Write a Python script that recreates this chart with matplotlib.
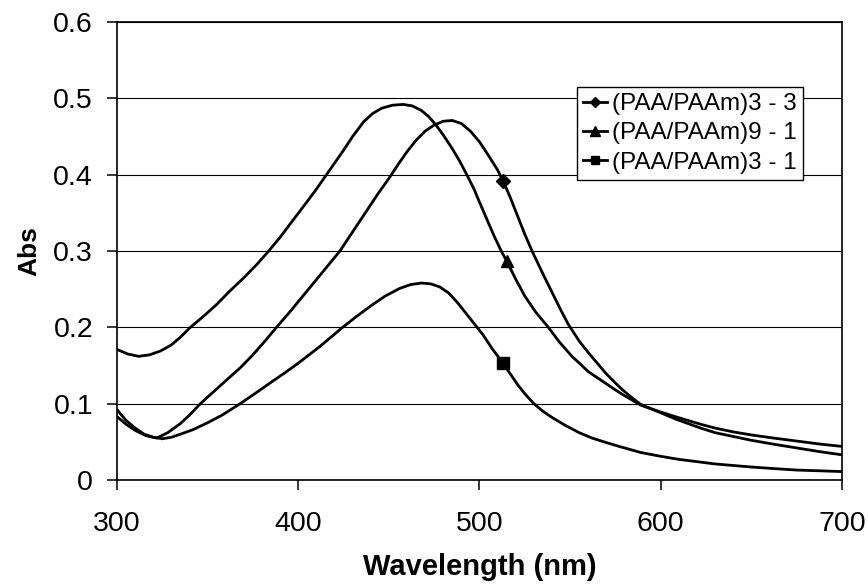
import matplotlib.pyplot as plt

plt.rcParams['font.family'] = ['Liberation Sans', 'DejaVu Sans']

# (PAA/PAAm)3 - 3
wl_33 = [300, 305, 310, 316, 322, 328, 335, 340, 346, 353, 360, 368, 375, 382, 388,
         396, 405, 414, 423, 430, 437, 444, 450, 455, 460, 465, 470, 475, 480, 485,
         490, 495, 500, 505, 510, 513, 517, 521, 525, 529, 535, 540, 545, 549, 555,
         560, 565, 570, 575, 579, 584, 589, 595, 600, 608, 615, 622, 630, 640, 650,
         662, 675, 688, 700]
abs_33 = [0.083, 0.073, 0.065, 0.058, 0.055, 0.062, 0.074, 0.085, 0.100, 0.115, 0.130,
          0.147, 0.164, 0.183, 0.200, 0.222, 0.248, 0.274, 0.300, 0.325, 0.350, 0.375,
          0.395, 0.413, 0.430, 0.445, 0.457, 0.465, 0.470, 0.471, 0.467, 0.457, 0.443,
          0.425, 0.406, 0.392, 0.370, 0.346, 0.322, 0.300, 0.270, 0.246, 0.222, 0.204,
          0.182, 0.167, 0.153, 0.139, 0.127, 0.118, 0.108, 0.099, 0.093, 0.088, 0.080,
          0.074, 0.068, 0.062, 0.057, 0.052, 0.047, 0.042, 0.037, 0.033]

# (PAA/PAAm)9 - 1
wl_91 = [300, 306, 312, 318, 324, 330, 335, 340, 348, 355, 362, 370, 377, 383, 390,
         397, 405, 410, 415, 420, 425, 430, 436, 441, 446, 452, 458, 463, 468, 472,
         476, 480, 485, 489, 493, 497, 500, 504, 508, 512, 515, 520, 525, 531, 538,
         544, 551, 556, 560, 565, 570, 575, 579, 584, 589, 595, 600, 608, 615, 622,
         630, 640, 650, 662, 675, 688, 700]
abs_91 = [0.171, 0.165, 0.162, 0.164, 0.169, 0.177, 0.187, 0.199, 0.215, 0.230, 0.247,
          0.265, 0.282, 0.298, 0.318, 0.340, 0.365, 0.381, 0.398, 0.415, 0.432, 0.450,
          0.469, 0.480, 0.487, 0.491, 0.492, 0.490, 0.484, 0.476, 0.465, 0.452, 0.434,
          0.418, 0.400, 0.381, 0.364, 0.342, 0.320, 0.300, 0.287, 0.263, 0.241, 0.220,
          0.200, 0.181, 0.162, 0.151, 0.142, 0.134, 0.126, 0.118, 0.112, 0.105, 0.098,
          0.093, 0.089, 0.083, 0.078, 0.073, 0.068, 0.063, 0.059, 0.055, 0.051, 0.047,
          0.044]

# (PAA/PAAm)3 - 1
wl_31 = [300, 305, 310, 315, 320, 325, 330, 335, 342, 350, 358, 368, 376, 385, 393,
         400, 406, 412, 418, 424, 432, 440, 448, 456, 462, 468, 473, 478, 483, 488,
         492, 497, 502, 507, 513, 517, 521, 525, 530, 535, 540, 547, 555, 562, 570,
         577, 589, 600, 610, 620, 630, 640, 650, 662, 675, 688, 700]
abs_31 = [0.092, 0.078, 0.068, 0.060, 0.056, 0.054, 0.056, 0.060, 0.066, 0.075, 0.085,
          0.100, 0.113, 0.128, 0.141, 0.153, 0.164, 0.175, 0.187, 0.199, 0.214, 0.228,
          0.241, 0.251, 0.256, 0.258, 0.257, 0.253, 0.245, 0.232, 0.220, 0.205, 0.190,
          0.172, 0.153, 0.139, 0.125, 0.113, 0.100, 0.090, 0.082, 0.072, 0.062, 0.055,
          0.049, 0.044, 0.036, 0.031, 0.027, 0.024, 0.021, 0.019, 0.017, 0.015, 0.013,
          0.012, 0.011]

fig = plt.figure(figsize=(8.68, 5.88), dpi=100)
ax = fig.add_axes([0.1348, 0.1837, 0.8352, 0.7789])

ax.plot(wl_33, abs_33, '-', color='black', lw=2.0, marker='D', ms=7,
        markevery=[wl_33.index(513)], label='(PAA/PAAm)3 - 3')
ax.plot(wl_91, abs_91, '-', color='black', lw=2.0, marker='^', ms=9,
        markevery=[wl_91.index(515)], label='(PAA/PAAm)9 - 1')
ax.plot(wl_31, abs_31, '-', color='black', lw=2.0, marker='s', ms=8,
        markevery=[wl_31.index(513)], label='(PAA/PAAm)3 - 1')

ax.set_xlim(300, 700)
ax.set_ylim(0, 0.6)
ax.set_xticks([300, 400, 500, 600, 700])
ax.set_yticks([0, 0.1, 0.2, 0.3, 0.4, 0.5, 0.6])
ax.set_yticklabels(['0', '0.1', '0.2', '0.3', '0.4', '0.5', '0.6'])
ax.yaxis.grid(True, color='black', lw=0.8)
ax.set_axisbelow(True)
for s in ax.spines.values():
    s.set_linewidth(1.2)
ax.tick_params(direction='out', length=7.2, width=1.1, labelsize=20.5)
ax.tick_params(axis='x', pad=15)
ax.tick_params(axis='y', pad=10)

ax.set_xlabel('Wavelength (nm)', fontsize=21, fontweight='bold', labelpad=12)
ax.set_ylabel('Abs', fontsize=19, fontweight='bold', labelpad=9)

leg = ax.legend(loc='upper right', bbox_to_anchor=(0.946, 0.858), fontsize=17.5,
                handlelength=1.0, fancybox=False, framealpha=1, edgecolor='black',
                borderpad=0.25, labelspacing=0.3, handletextpad=0.2, borderaxespad=0,
                markerscale=0.8)
leg.get_frame().set_linewidth(1.0)

plt.savefig('out.png', dpi=100)
